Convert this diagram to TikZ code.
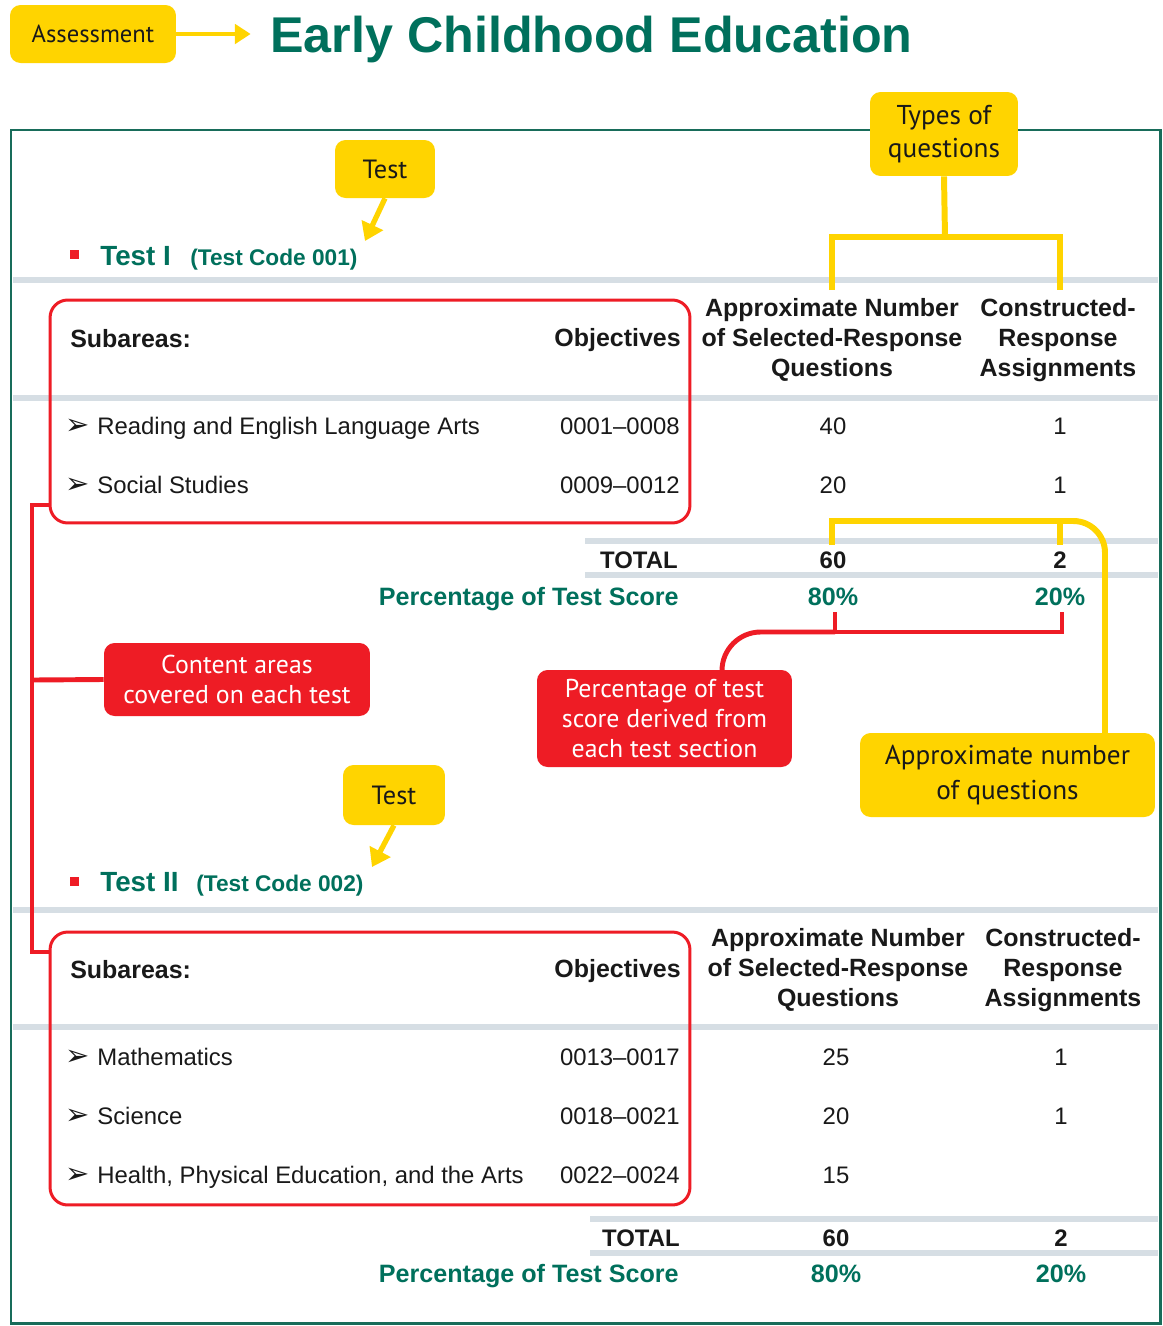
\documentclass[tikz,border=0pt]{standalone}
\usepackage{fontspec}
\setmainfont{Liberation Sans}
\newfontfamily\callfont{PT Sans}
\newfontfamily\dingfont{DejaVu Sans}
\usetikzlibrary{arrows.meta}
\definecolor{cyel}{RGB}{255,212,0}
\definecolor{cred}{RGB}{238,28,37}
\definecolor{cteal}{RGB}{0,112,92}
\definecolor{cframe}{RGB}{24,108,90}
\definecolor{cgray}{RGB}{214,222,228}
\definecolor{ctext}{RGB}{25,25,25}
\begin{document}
\begin{tikzpicture}[x=0.02cm,y=-0.02cm,
  body/.style={font=\fontsize{13.6}{16}\selectfont, text=ctext, inner sep=0},
  bodyb/.style={font=\bfseries\fontsize{13.6}{16}\selectfont, text=ctext, inner sep=0},
  hdr/.style={font=\bfseries\fontsize{14.2}{17}\selectfont, text=ctext, inner sep=0, align=center},
  pct/.style={font=\bfseries\fontsize{14.3}{16}\selectfont, text=cteal, inner sep=0},
  ding/.style={font=\dingfont\fontsize{16.5}{16.5}\selectfont, text=ctext, inner sep=0},
  callY/.style={fill=cyel, rounded corners=6pt, text=ctext, align=center, inner sep=0},
  callR/.style={fill=cred, rounded corners=6pt, text=white, align=center, inner sep=0},
  redbox/.style={draw=cred, line width=1.7pt, rounded corners=10pt, inner sep=0},
  ybr/.style={draw=cyel, line width=3.4pt},
  rbr/.style={draw=cred, line width=2.8pt},
  yarr/.style={draw=cyel, line width=2.4pt, -{Triangle[width=11pt,length=9pt]}},
  tarr/.style={draw=cyel, line width=3pt, -{Triangle[width=13pt,length=10pt]}},
  sq/.style={fill=cred, minimum size=0.18cm, inner sep=0},
  thead/.style={anchor=base west, inner sep=0, text=cteal, font=\bfseries\fontsize{15.8}{18}\selectfont},
  tcode/.style={anchor=base west, inner sep=0, text=cteal, font=\bfseries\fontsize{12.9}{15}\selectfont}
]
\useasboundingbox (0,0) rectangle (1163,1326);
\fill[white] (0,0) rectangle (1163,1326);

% frame
\draw[cframe, line width=1.7pt] (11,130) rectangle (1160,1323);

% gray bars
\foreach \yy in {280,398,910,1027} \fill[cgray] (13,\yy-3) rectangle (1158,\yy+3);
\foreach \yy in {541,575} \fill[cgray] (585,\yy-3) rectangle (1158,\yy+3);
\foreach \yy in {1219,1253} \fill[cgray] (590,\yy-3) rectangle (1158,\yy+3);

% title
\node[callY, font=\callfont\fontsize{14}{16}\selectfont, minimum width=3.32cm, minimum height=1.16cm] (assess) at (93,34) {Assessment};
\node[font=\bfseries\fontsize{28.6}{30}\selectfont, text=cteal, anchor=base west, inner sep=0] (title) at (270,52) {Early Childhood Education};
\draw[yarr] (assess.east) -- (assess.east -| title.west) [shorten >=11pt];

% types of questions callout
\node[callY, font=\callfont\fontsize{15.5}{18.7}\selectfont, minimum width=2.96cm, minimum height=1.68cm] (tq) at (944,134) {Types of\\questions};

% ---------- Test I ----------
\node[callY, font=\callfont\fontsize{15}{17}\selectfont, minimum width=2cm, minimum height=1.16cm] (test1) at (385,169) {Test};
\node[sq] (sq1) at (74.5,254.5) {};
\node[thead] (t1) at (100,265) {Test I};
\node[tcode] (tc1) at (190,265) {(Test Code 001)};
\coordinate (a1) at (365,241);
\draw[tarr] (test1.south) -- (a1);

\node[redbox, minimum width=12.8cm, minimum height=4.46cm] (box1) at (370,411.5) {};

\node[hdr, anchor=base west] (sub1) at (70,347) {Subareas:};
\node[hdr, anchor=base east] (obj1) at (681,346) {Objectives};
\node[hdr] (aq1) at (832,340) {Approximate Number\\of Selected-Response\\Questions};
\node[hdr] (cr1) at (1058,340) {Constructed-\\Response\\Assignments};

\node[ding] (d11) at (78,427) {➢};
\node[body, anchor=base west] (s11) at (97,434.5) {Reading and English Language Arts};
\node[body, anchor=base east] (o11) at (680,434.5) {0001–0008};
\node[body, anchor=base] (n11) at (833,434.5) {40};
\node[body, anchor=base] (c11) at (1060,434.5) {1};

\node[ding] (d12) at (78,486) {➢};
\node[body, anchor=base west] (s12) at (97,493.5) {Social Studies};
\node[body, anchor=base east] (o12) at (680,493.5) {0009–0012};
\node[body, anchor=base] (n12) at (833,493.5) {20};
\node[body, anchor=base] (c12) at (1060,493.5) {1};

\node[bodyb, anchor=base east] (tot1) at (678,568) {TOTAL};
\node[bodyb, anchor=base] (tn1) at (833,568) {60};
\node[bodyb, anchor=base] (tcc1) at (1060,568) {2};
\node[pct, anchor=base east] (p1) at (679,605) {Percentage of Test Score};
\node[pct, anchor=base] (pn1) at (833,605) {80\%};
\node[pct, anchor=base] (pc1) at (1060,605) {20\%};

% types-of-questions bracket
\coordinate (qa) at (832,290);
\coordinate (qc) at (1060,290);
\coordinate (qj) at (945,237);
\draw[ybr] (tq.south) -- (qj);
\draw[ybr] (qa) |- (qj) -| (qc);

% callouts in the middle
\node[callR, font=\callfont\fontsize{14.7}{17}\selectfont, minimum width=5.32cm, minimum height=1.46cm] (ca) at (237,679.5) {Content areas\\covered on each test};
\node[callR, font=\callfont\fontsize{14.7}{17}\selectfont, minimum width=5.1cm, minimum height=1.94cm] (pts) at (664.5,718.5) {Percentage of test\\score derived from\\each test section};
\node[callY, font=\callfont\fontsize{15.5}{19.8}\selectfont, minimum width=5.9cm, minimum height=1.68cm] (apq) at (1007.5,775) {Approximate number\\of questions};

% approximate-number bracket
\coordinate (ya) at (832,545);
\coordinate (yc) at (1060,545);
\coordinate (yj) at (1060,521);
\coordinate (yv) at (1105,735);
\draw[ybr] (ya) |- (yj) -- (yc);
\draw[ybr, rounded corners=18pt] (yj) -| (yv);

% percentage bracket
\coordinate (ra) at (835,612);
\coordinate (rc) at (1062,612);
\coordinate (rj) at (1062,632);
\coordinate (rk) at (835,632);
\coordinate (rl) at (722,671);
\draw[rbr] (ra) |- (rj) -- (rc);
\draw[rbr, rounded corners=22pt] (rk) -| (rl);

% ---------- Test II ----------
\node[callY, font=\callfont\fontsize{15}{17}\selectfont, minimum width=2.04cm, minimum height=1.2cm] (test2) at (394,795) {Test};
\node[sq] (sq2) at (74.5,881.5) {};
\node[thead] (t2) at (100,891) {Test II};
\node[tcode] (tc2) at (196,891) {(Test Code 002)};
\coordinate (a2) at (372,867);
\draw[tarr] (test2.south) -- (a2);

\node[redbox, minimum width=12.8cm, minimum height=5.46cm] (box2) at (370,1068.5) {};

\node[hdr, anchor=base west] (sub2) at (70,978) {Subareas:};
\node[hdr, anchor=base east] (obj2) at (681,977) {Objectives};
\node[hdr] (aq2) at (838,970) {Approximate Number\\of Selected-Response\\Questions};
\node[hdr] (cr2) at (1063,970) {Constructed-\\Response\\Assignments};

\node[ding] (d21) at (78,1058) {➢};
\node[body, anchor=base west] (s21) at (97,1065.5) {Mathematics};
\node[body, anchor=base east] (o21) at (680,1065.5) {0013–0017};
\node[body, anchor=base] (n21) at (836,1065.5) {25};
\node[body, anchor=base] (c21) at (1061,1065.5) {1};

\node[ding] (d22) at (78,1117) {➢};
\node[body, anchor=base west] (s22) at (97,1124.5) {Science};
\node[body, anchor=base east] (o22) at (680,1124.5) {0018–0021};
\node[body, anchor=base] (n22) at (836,1124.5) {20};
\node[body, anchor=base] (c22) at (1061,1124.5) {1};

\node[ding] (d23) at (78,1176) {➢};
\node[body, anchor=base west] (s23) at (97,1183.5) {Health, Physical Education, and the Arts};
\node[body, anchor=base east] (o23) at (680,1183.5) {0022–0024};
\node[body, anchor=base] (n23) at (836,1183.5) {15};

\node[bodyb, anchor=base east] (tot2) at (680,1246) {TOTAL};
\node[bodyb, anchor=base] (tn2) at (836,1246) {60};
\node[bodyb, anchor=base] (tcc2) at (1061,1246) {2};
\node[pct, anchor=base east] (p2) at (679,1282) {Percentage of Test Score};
\node[pct, anchor=base] (pn2) at (836,1282) {80\%};
\node[pct, anchor=base] (pc2) at (1061,1282) {20\%};

% content-areas connector
\coordinate (l1) at (50,505);
\coordinate (l2) at (50,952);
\coordinate (lt) at (32,505);
\coordinate (lb) at (32,952);
\coordinate (lj) at (32,680);
\draw[rbr] (l1) -- (lt) -- (lb) -- (l2);
\draw[rbr] (lj) -- (ca.west);
\end{tikzpicture}
\end{document}
